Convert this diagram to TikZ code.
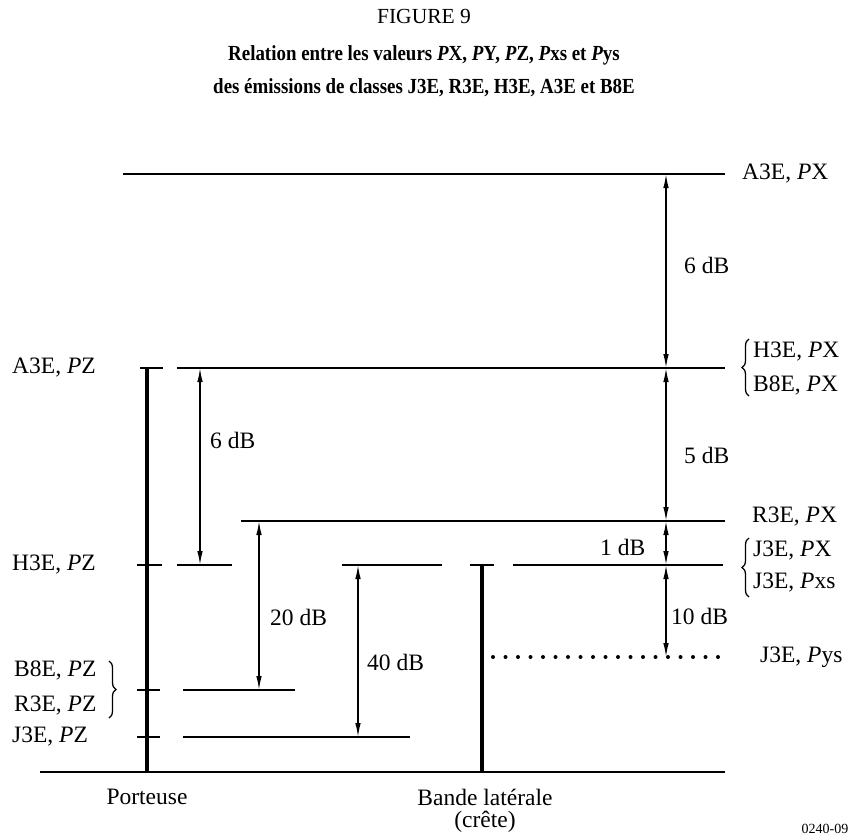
\documentclass[tikz,border=0pt]{standalone}
\usepackage{fontspec}
\setmainfont{Liberation Serif}
\usetikzlibrary{arrows.meta,decorations.pathreplacing}
\begin{document}
\begin{tikzpicture}[x=1pt,y=-1pt,
  lvl/.style={line width=1.6pt},
  bold/.style={line width=4pt},
  dim/.style={line width=1.4pt,{Latex[length=14pt,width=5.5pt]}-{Latex[length=14pt,width=5.5pt]}},
  txt/.style={font=\fontsize{23.5}{27}\selectfont,inner sep=0pt},
  ttl/.style={font=\fontsize{21.5}{25}\selectfont\bfseries,inner sep=0pt,xscale=0.88},
  lab/.style={txt,anchor=west},
  brc/.style={line width=1.3pt,decorate,decoration={brace,amplitude=7pt}}]
\useasboundingbox (0,0) rectangle (849,835);
% titles
\node[inner sep=0pt,font=\fontsize{21.5}{25}\selectfont] (t1) at (424,16) {FIGURE 9};
\node[ttl] (t2) at (424,55) {Relation entre les valeurs \textit{P}X, \textit{P}Y, \textit{P}Z, \textit{P}xs et \textit{P}ys};
\node[ttl] (t3) at (424,88) {des émissions de classes J3E, R3E, H3E, A3E et B8E};
% coordinates
\coordinate (a3l) at (123,174); \coordinate (a3r) at (725,174);
\coordinate (pzTl) at (140,368); \coordinate (pzTr) at (163,368);
\coordinate (hpl) at (177,368); \coordinate (hpr) at (725,368);
\coordinate (rpl) at (241,521); \coordinate (rpr) at (725,521);
\coordinate (h3tl) at (137,565); \coordinate (h3tr) at (162,565);
\coordinate (h3al) at (177,565); \coordinate (h3ar) at (232,565);
\coordinate (h3bl) at (342,565); \coordinate (h3br) at (442,565);
\coordinate (bTl) at (470,565); \coordinate (bTr) at (494,565);
\coordinate (jpl) at (513,565); \coordinate (jpr) at (723,565);
\coordinate (b8tl) at (137,690); \coordinate (b8tr) at (160,690);
\coordinate (b8l) at (183,690); \coordinate (b8r) at (295,690);
\coordinate (j3tl) at (137,737); \coordinate (j3tr) at (160,737);
\coordinate (j3l) at (183,737); \coordinate (j3r) at (410,737);
\coordinate (basel) at (40,772); \coordinate (baser) at (725,772);
\coordinate (pb) at (147,772); \coordinate (pt) at (147,368);
\coordinate (bb) at (482,772); \coordinate (bt) at (482,565);
\coordinate (ysl) at (493,657); \coordinate (ysr) at (718,657);
% level lines
\draw[lvl] (a3l) -- (a3r);
\draw[lvl] (pzTl) -- (pzTr);
\draw[lvl] (hpl) -- (hpr);
\draw[lvl] (rpl) -- (rpr);
\draw[lvl] (h3tl) -- (h3tr);
\draw[lvl] (h3al) -- (h3ar);
\draw[lvl] (h3bl) -- (h3br);
\draw[lvl] (bTl) -- (bTr);
\draw[lvl] (jpl) -- (jpr);
\draw[lvl] (b8tl) -- (b8tr);
\draw[lvl] (b8l) -- (b8r);
\draw[lvl] (j3tl) -- (j3tr);
\draw[lvl] (j3l) -- (j3r);
\draw[lvl] (basel) -- (baser);
\draw[bold] (pt) -- (pb);
\draw[bold] (bt) -- (bb);
\draw[line width=4pt,line cap=round,dash pattern=on 0pt off 12.5pt] (ysl) -- (ysr);
% dimension arrows
\coordinate (r1) at (666,174); \coordinate (r2) at (666,368);
\coordinate (r3) at (666,521); \coordinate (r4) at (666,565);
\coordinate (r5) at (666,657);
\draw[dim] (r1) -- (r2);
\draw[dim] (r2) -- (r3);
\draw[dim] (r3) -- (r4);
\draw[dim] (r4) -- (r5);
\coordinate (s1) at (200,368); \coordinate (s2) at (200,565);
\draw[dim] (s1) -- (s2);
\coordinate (u1) at (259,521); \coordinate (u2) at (259,690);
\draw[dim] (u1) -- (u2);
\coordinate (v1) at (358,565); \coordinate (v2) at (358,737);
\draw[dim] (v1) -- (v2);
% dB labels
\node[lab] (d6r) at (684,265) {6 dB};
\node[lab] (d5) at (684,455) {5 dB};
\node[lab] (d1) at (600,547) {1 dB};
\node[lab] (d10) at (671,616) {10 dB};
\node[lab] (d6l) at (210,440) {6 dB};
\node[lab] (d20) at (270,617) {20 dB};
\node[lab] (d40) at (367,662) {40 dB};
% left labels
\node[lab] (la3) at (12,368) {A3E, \textit{P}Z};
\node[lab] (lh3) at (12,565) {H3E, \textit{P}Z};
\node[lab] (lb8) at (14,670) {B8E, \textit{P}Z};
\node[lab] (lr3) at (14,706) {R3E, \textit{P}Z};
\node[lab] (lj3) at (12,737) {J3E, \textit{P}Z};
\draw[brc] (109,661) -- (109,718);
% right labels
\node[lab] (ra3) at (742,174) {A3E, \textit{P}X};
\node[lab] (rh3) at (753,352) {H3E, \textit{P}X};
\node[lab] (rb8) at (753,385) {B8E, \textit{P}X};
\node[lab] (rr3) at (752,517) {R3E, \textit{P}X};
\node[lab] (rj3) at (753,551) {J3E, \textit{P}X};
\node[lab] (rj3s) at (753,583) {J3E, \textit{P}xs};
\node[lab] (rys) at (760,657) {J3E, \textit{P}ys};
\draw[brc] (749,396) -- (749,339);
\draw[brc] (749,597) -- (749,538);
% bottom
\node[txt] (port) at (147,797) {Porteuse};
\node[txt] (bande) at (485,797) {Bande latérale};
\node[txt] (crete) at (485,822) {(crête)};
\node[txt,font=\fontsize{14}{16}\selectfont] (code) at (825,829) {0240-09};
\end{tikzpicture}
\end{document}
